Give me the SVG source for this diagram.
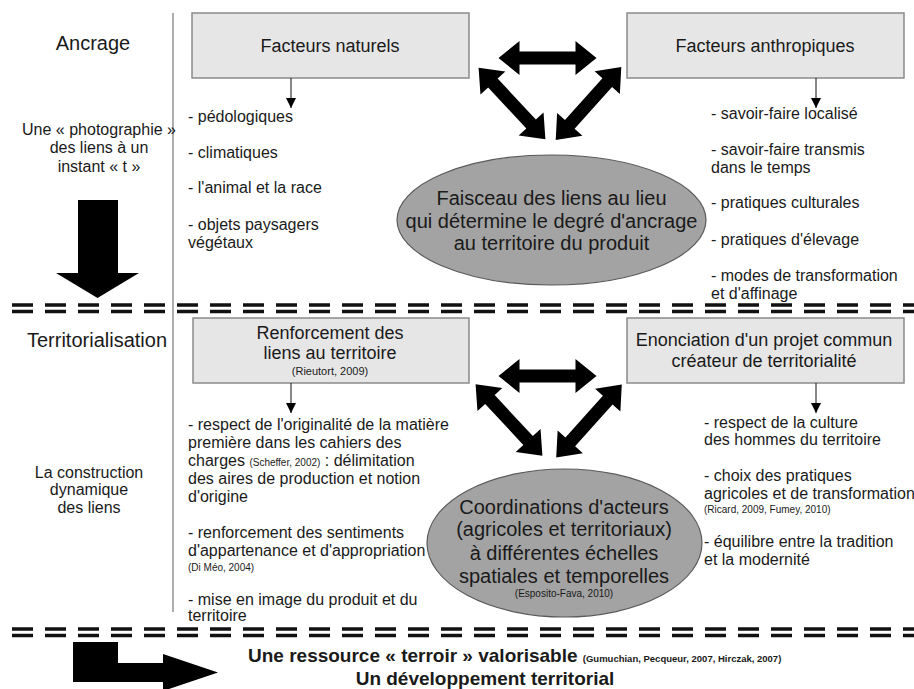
<svg xmlns="http://www.w3.org/2000/svg" width="914" height="689" viewBox="0 0 914 689">
<style>
text{font-family:"Liberation Sans",Arial,sans-serif;fill:#1a1a1a}
.t20{font-size:20px}
.t18{font-size:18px}
.t16{font-size:16px}
.sm{font-size:10px}
.mid{text-anchor:middle}
.box{fill:#e6e6e6;stroke:#8a8a8a;stroke-width:1.5}
.ell{fill:#a3a3a3;stroke:#5a5a5a;stroke-width:1.2}
.dash{stroke:#111;stroke-width:3.5;stroke-dasharray:21 12;fill:none}
.thin{stroke:#111;stroke-width:1;fill:none}
.big{fill:#000}
.bold{font-weight:bold}
</style>
<defs>
<marker id="ah" viewBox="0 0 10 12" refX="10" refY="6" markerWidth="10" markerHeight="12" markerUnits="userSpaceOnUse" orient="auto">
<path d="M0,1 L10,6 L0,11 Z" fill="#000"/>
</marker>
<polygon id="dbl" points="-49,0 -28,-17 -28,-6.5 28,-6.5 28,-17 49,0 28,17 28,6.5 -28,6.5 -28,17"/>
</defs>

<g id="separators">
<line x1="173" y1="13" x2="173" y2="612" stroke="#777" stroke-width="1.2"/>
<line class="dash" x1="12" y1="305" x2="914" y2="305"/>
<line class="dash" x1="12" y1="311.5" x2="914" y2="311.5"/>
<line class="dash" x1="12" y1="629" x2="914" y2="629"/>
<line class="dash" x1="12" y1="635.5" x2="914" y2="635.5"/>
</g>

<g id="labels-left">
<text class="t20 mid" x="93" y="50">Ancrage</text>
<text class="t16 mid" x="99" y="135">Une « photographie »</text>
<text class="t16 mid" x="99" y="153">des liens à un</text>
<text class="t16 mid" x="99" y="172">instant « t »</text>
<text class="t20 mid" x="97" y="347">Territorialisation</text>
<text class="t16 mid" x="89" y="478">La construction</text>
<text class="t16 mid" x="89" y="495">dynamique</text>
<text class="t16 mid" x="89" y="513">des liens</text>
<polygon class="big" points="78,200 118,200 118,273 139,273 97.5,298 56,273 78,273"/>
</g>

<g id="node-facteurs-naturels">
<rect class="box" x="192" y="13" width="277" height="65"/>
<text class="t18 mid" x="330" y="52">Facteurs naturels</text>
</g>
<g id="node-facteurs-anthropiques">
<rect class="box" x="627" y="13" width="277" height="65"/>
<text class="t18 mid" x="765" y="52">Facteurs anthropiques</text>
</g>
<g id="node-faisceau">
<ellipse class="ell" cx="551.5" cy="220" rx="154.5" ry="65"/>
<text class="t20 mid" x="551.5" y="205">Faisceau des liens au lieu</text>
<text class="t20 mid" x="551.5" y="228">qui détermine le degré d'ancrage</text>
<text class="t20 mid" x="551.5" y="250">au territoire du produit</text>
</g>
<g id="list-naturels">
<text class="t16" x="188" y="122">- pédologiques</text>
<text class="t16" x="188" y="158">- climatiques</text>
<text class="t16" x="188" y="193">- l'animal et la race</text>
<text class="t16" x="188" y="230">- objets paysagers</text>
<text class="t16" x="188" y="248">végétaux</text>
</g>
<g id="list-anthropiques">
<text class="t16" x="711" y="119">- savoir-faire localisé</text>
<text class="t16" x="711" y="155">- savoir-faire transmis</text>
<text class="t16" x="711" y="173">dans le temps</text>
<text class="t16" x="711" y="208">- pratiques culturales</text>
<text class="t16" x="711" y="245">- pratiques d'élevage</text>
<text class="t16" x="711" y="281">- modes de transformation</text>
<text class="t16" x="711" y="299">et d'affinage</text>
</g>

<g id="node-renforcement">
<rect class="box" x="193" y="318" width="276" height="65"/>
<text class="t18 mid" x="330" y="339">Renforcement des</text>
<text class="t18 mid" x="330" y="359">liens au territoire</text>
<text class="mid" x="330" y="375" font-size="11">(Rieutort, 2009)</text>
</g>
<g id="node-enonciation">
<rect class="box" x="627" y="318" width="277" height="65"/>
<text class="t18 mid" x="764" y="346">Enonciation d'un projet commun</text>
<text class="t18 mid" x="764" y="367">créateur de territorialité</text>
</g>
<g id="node-coordinations">
<ellipse class="ell" cx="564.5" cy="543" rx="137.5" ry="74"/>
<text class="t20 mid" x="564" y="514">Coordinations d'acteurs</text>
<text class="t20 mid" x="564" y="536">(agricoles et territoriaux)</text>
<text class="t20 mid" x="564" y="560">à différentes échelles</text>
<text class="t20 mid" x="564" y="583">spatiales et temporelles</text>
<text class="sm mid" x="564" y="597">(Esposito-Fava, 2010)</text>
</g>
<g id="list-renforcement">
<text class="t16" x="188" y="430">- respect de l'originalité de la matière</text>
<text class="t16" x="188" y="448">première dans les cahiers des</text>
<text class="t16" x="188" y="466">charges <tspan font-size="10">(Scheffer, 2002)</tspan> : délimitation</text>
<text class="t16" x="188" y="484">des aires de production et notion</text>
<text class="t16" x="188" y="502">d'origine</text>
<text class="t16" x="188" y="538">- renforcement des sentiments</text>
<text class="t16" x="188" y="556">d'appartenance et d'appropriation</text>
<text class="sm" x="188" y="571">(Di Méo, 2004)</text>
<text class="t16" x="188" y="605">- mise en image du produit et du</text>
<text class="t16" x="188" y="621">territoire</text>
</g>
<g id="list-enonciation">
<text class="t16" x="704" y="428">- respect de la culture</text>
<text class="t16" x="704" y="445">des hommes du territoire</text>
<text class="t16" x="704" y="481">- choix des pratiques</text>
<text class="t16" x="704" y="499">agricoles et de transformation</text>
<text class="sm" x="704" y="513">(Ricard, 2009, Fumey, 2010)</text>
<text class="t16" x="704" y="547">- équilibre entre la tradition</text>
<text class="t16" x="704" y="565">et la modernité</text>
</g>

<g id="conclusion">
<polygon class="big" points="73,642 118,642 118,663 163,663 163,654 218,672.5 163,691 163,682 73,682"/>
<text class="bold" x="248" y="662" font-size="19">Une ressource « terroir » valorisable <tspan font-size="9.5">(Gumuchian, Pecqueur, 2007, Hirczak, 2007)</tspan></text>
<text class="bold mid" x="485" y="685" font-size="19">Un développement territorial</text>
</g>

<g id="connectors">
<line class="thin" x1="291" y1="78" x2="291" y2="108" marker-end="url(#ah)"/>
<line class="thin" x1="816" y1="78" x2="816" y2="108" marker-end="url(#ah)"/>
<line class="thin" x1="291" y1="383" x2="291" y2="413" marker-end="url(#ah)"/>
<line class="thin" x1="816" y1="383" x2="816" y2="413" marker-end="url(#ah)"/>
<use href="#dbl" transform="translate(547.5,58)"/>
<use href="#dbl" transform="translate(512,103.5) rotate(47)"/>
<use href="#dbl" transform="translate(588.5,103.5) rotate(-48)"/>
<use href="#dbl" transform="translate(547.5,376)"/>
<use href="#dbl" transform="translate(509,420) rotate(47)"/>
<use href="#dbl" transform="translate(589,421) rotate(-48)"/>
</g>
</svg>
